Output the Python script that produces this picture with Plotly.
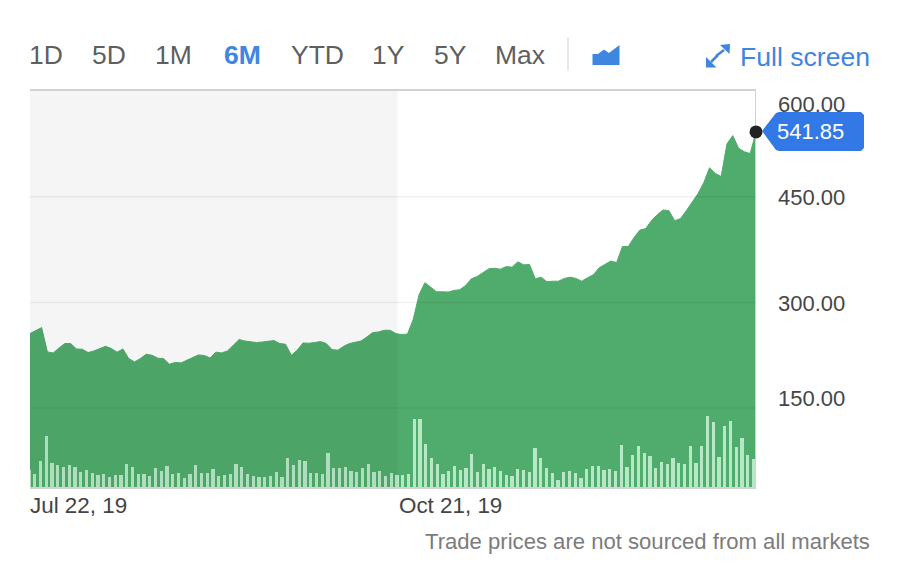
import plotly.graph_objects as go

# ---------- data ----------
price = [255.7,259.4,264.2,229.7,228.3,235.3,241.6,241.6,233.9,233.5,228.8,231.1,234.5,237.7,234.5,229.3,233.9,220.3,215.5,220.3,
         226.4,225.0,220.8,220.3,212.3,214.7,214.1,217.9,222.6,225.4,224.6,221.2,229.3,228.3,231.1,239.2,247.2,245.2,243.8,243.0,
         243.8,244.4,245.8,241.6,240.6,225.0,232.1,242.4,242.0,243.0,244.4,241.6,233.0,232.1,237.7,241.6,243.8,245.2,250.9,257.1,
         258.0,260.4,260.4,255.7,254.3,255.1,276.4,311.3,327.9,321.6,315.1,315.1,314.6,317.0,318.0,324.0,333.5,336.8,342.0,347.7,
         348.5,347.1,350.9,350.0,357.6,353.3,353.8,333.5,335.8,329.3,330.1,330.1,334.0,335.8,334.0,330.1,335.0,339.2,349.1,354.5,
         358.7,356.6,379.2,379.2,392.0,402.6,404.7,416.0,424.5,431.2,430.2,416.0,418.9,430.2,441.5,454.2,469.8,491.0,483.0,478.7,
         525.0,536.7,518.9,513.7,511.3,541.85]
volume = [16.7,12.7,26.0,51.3,24.0,22.0,20.0,21.7,20.0,15.3,16.7,14.0,11.7,13.3,10.0,11.7,12.3,22.7,20.0,13.3,
          13.3,10.7,18.7,16.0,20.7,13.0,13.7,9.0,13.0,22.3,13.7,14.3,18.0,10.7,12.0,12.7,23.0,20.0,13.0,11.3,
          9.7,10.0,11.3,14.7,10.3,29.3,22.0,27.3,25.7,14.0,14.3,13.3,34.0,18.7,19.0,20.0,16.0,15.0,19.3,23.3,
          15.3,15.7,11.3,13.7,12.3,11.7,13.3,67.7,68.0,43.3,29.3,22.7,12.7,15.7,20.7,16.7,19.3,33.3,14.7,23.3,
          17.7,20.0,16.0,12.3,11.3,18.3,16.7,15.0,38.7,28.7,19.0,13.7,6.7,14.7,16.0,13.7,9.5,18.2,21.3,21.0,
          16.7,18.3,15.7,41.7,20.0,32.3,41.3,34.3,30.7,19.3,25.0,23.3,29.3,24.3,22.7,40.7,24.0,41.0,70.7,64.7,
          30.3,60.7,65.7,40.0,49.3,31.7,27.7]
range_labels = ["1D", "5D", "1M", "6M", "YTD", "1Y", "5Y", "Max"]
range_left_px = [28, 91, 154, 223, 290, 371, 433, 494]
y_ticks = [600, 450, 300, 150]
y_tick_labels = ["600.00", "450.00", "300.00", "150.00"]
y_tick_shift = [-13, -1, -1, 10]
y_limits = [38, 600]
date_labels = ["Jul 22, 19", "Oct 21, 19"]
date_index = [0, 63.5]
last_label = "541.85"
footer = "Trade prices are not sourced from all markets"

# ---------- layout constants ----------
W, H = 922, 570
L, R, T, B = 30, 756, 91, 487
FONT = "Liberation Sans, Arial, sans-serif"
GREEN = "rgb(80,172,108)"
BLUE = "#3f86e0"
px = lambda x: (x - L) / (R - L)
py = lambda y: (B - y) / (B - T)
def path(pts, close=True):
    d = "M" + " L".join(f"{px(x):.5f},{py(y):.5f}" for x, y in pts)
    return d + (" Z" if close else "")

fig = go.Figure()
n = len(price)
fig.add_trace(go.Scatter(x=list(range(n)), y=price, mode="lines", fill="tozeroy",
                         line=dict(color=GREEN, width=1), fillcolor=GREEN, hoverinfo="skip", name="Price"))
# right-hand frame edge, kept as a trace so the last-price dot can sit on top of it
fig.add_trace(go.Scatter(x=[n - 1, n - 1], y=y_limits, mode="lines", cliponaxis=False,
                         line=dict(color="#d2d2d2", width=2), hoverinfo="skip", name="Edge"))
fig.add_trace(go.Bar(x=list(range(len(volume))), y=volume, xaxis="x2", yaxis="y2",
                     marker=dict(color="#b6e8c6", line=dict(width=0)), width=0.6, name="Volume", hoverinfo="skip"))
fig.add_trace(go.Scatter(x=[n - 1], y=[price[-1]], xaxis="x3", yaxis="y3", mode="markers", cliponaxis=False,
                         marker=dict(color="#222222", size=13), name="Last", hoverinfo="skip"))

shapes = []
# shaded previous-period band
shapes.append(dict(type="rect", xref="x", yref="paper", x0=0, x1=date_index[1] - 0.2, y0=0, y1=1,
                   fillcolor="rgba(0,0,0,0.04)", line=dict(width=0), layer="above"))
for v in y_ticks[1:]:
    shapes.append(dict(type="line", xref="paper", yref="y", x0=0, x1=1, y0=v, y1=v,
                       line=dict(color="rgba(0,0,0,0.06)", width=1.5), layer="above"))
# price tag
tag = [(762, 131), (776, 113), (779, 112), (861, 112), (864, 115), (864, 148), (861, 151), (779, 151), (776, 150)]
shapes.append(dict(type="path", xref="paper", yref="paper", path=path(tag),
                   fillcolor="#3278e6", line=dict(width=0), layer="above"))
# divider
shapes.append(dict(type="line", xref="paper", yref="paper", x0=px(568), x1=px(568), y0=py(37), y1=py(71),
                   line=dict(color="#e2e2e2", width=1.5), layer="above"))
# area-chart icon
icon = [(592.5, 54), (598, 54), (604, 49.5), (609, 53), (619.5, 45), (619.5, 65), (592.5, 65)]
shapes.append(dict(type="path", xref="paper", yref="paper", path=path(icon),
                   fillcolor=BLUE, line=dict(width=0), layer="above"))
# full-screen icon
shapes.append(dict(type="path", xref="paper", yref="paper", path=path([(730, 44), (720, 45), (729.5, 54)]),
                   fillcolor=BLUE, line=dict(width=0), layer="above"))
shapes.append(dict(type="path", xref="paper", yref="paper", path=path([(706, 67.5), (706, 57), (716.5, 67.5)]),
                   fillcolor=BLUE, line=dict(width=0), layer="above"))
shapes.append(dict(type="line", xref="paper", yref="paper", x0=px(724), x1=px(716), y0=py(50), y1=py(56),
                   line=dict(color=BLUE, width=2.5), layer="above"))
shapes.append(dict(type="line", xref="paper", yref="paper", x0=px(711), x1=px(718), y0=py(62), y1=py(55),
                   line=dict(color=BLUE, width=2.5), layer="above"))

ann = []
def label(text, x, y, size, color, anchor="left", weight=None):
    ann.append(dict(text=text, xref="paper", yref="paper", x=px(x), y=py(y), xanchor=anchor, yanchor="middle",
                    showarrow=False, font=dict(family=FONT, size=size, color=color, weight=weight), borderpad=0))
for t, x in zip(range_labels, range_left_px):
    if t == "6M":
        label(t, x, 55, 26.5, BLUE, weight=700)
    else:
        label(t, x, 55, 26.5, "#5f5f5f")
label("Full screen", 871, 57, 26.6, BLUE, anchor="right")
for v, t, s in zip(y_ticks, y_tick_labels, y_tick_shift):
    ann.append(dict(text=t, xref="paper", yref="y", x=px(776), y=v, xanchor="left", yanchor="middle",
                    yshift=s, showarrow=False, font=dict(family=FONT, size=22, color="#464646")))
label(last_label, 776, 132, 22, "#ffffff")
for t, i, dx in zip(date_labels, date_index, [-2, -2]):
    ann.append(dict(text=t, xref="x", yref="paper", x=i, y=py(505.5), xanchor="left", yanchor="middle", xshift=dx,
                    showarrow=False, font=dict(family=FONT, size=22.4, color="#444444")))
label(footer, 871, 541, 22.1, "#7c7c7c", anchor="right")

fig.update_layout(
    width=W, height=H, autosize=False, showlegend=False,
    margin=dict(l=L, r=W - R, t=T, b=H - B, pad=0),
    paper_bgcolor="white", plot_bgcolor="white", bargap=0, shapes=shapes, annotations=ann,
    xaxis=dict(range=[0, n - 1], showgrid=False, zeroline=False, showticklabels=False, ticks="",
               showline=True, mirror=True, linecolor="#d2d2d2", linewidth=1.5),
    yaxis=dict(range=y_limits, side="right", showgrid=False, zeroline=False, showticklabels=False, ticks="",
               showline=False),
    xaxis2=dict(overlaying="x", anchor="y2", range=[1 / 5.75, 727 / 5.75], visible=False),
    yaxis2=dict(overlaying="y", anchor="x2", range=[0, B - T], visible=False),
    xaxis3=dict(overlaying="x", anchor="y3", range=[0, n - 1], visible=False),
    yaxis3=dict(overlaying="y", anchor="x3", range=y_limits, visible=False),
)
fig.write_html("out.html", config=dict(displayModeBar=False),
               post_script="document.body.style.margin='0';document.body.style.overflow='hidden';")
